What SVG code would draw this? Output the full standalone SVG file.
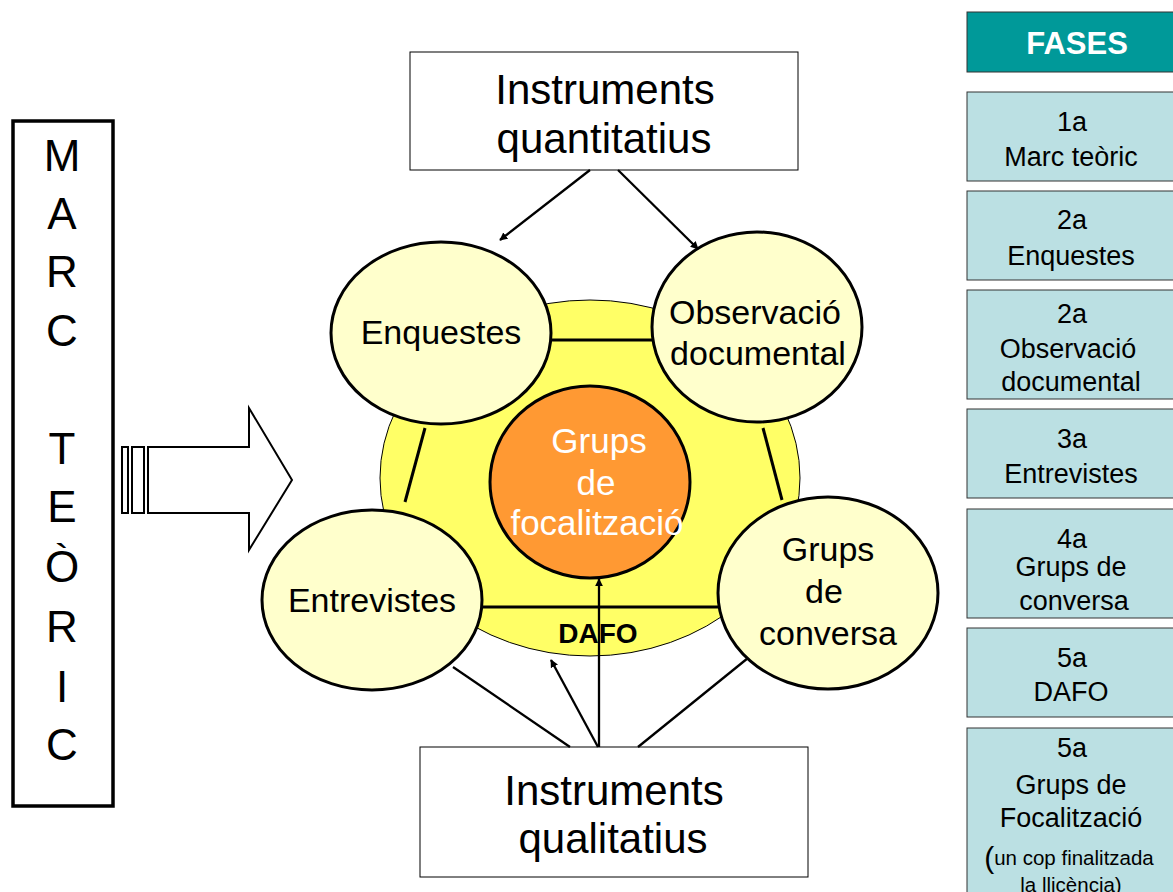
<svg xmlns="http://www.w3.org/2000/svg" width="1173" height="892" viewBox="0 0 1173 892">
  <defs>
    <style>
      text { font-family: "Liberation Sans", Arial, sans-serif; text-anchor: middle; dominant-baseline: central; fill: #000; }
      .inst { font-size: 42px; }
      .node { fill: #FFFFCC; stroke: #000; stroke-width: 3; }
      .node-label { font-size: 34px; }
      .phase { fill: #BBE0E3; stroke: #333; stroke-width: 1; }
      .phase-num { font-size: 27px; }
      .phase-txt { font-size: 27px; }
      .conn { stroke: #000; stroke-width: 2.3; fill: none; }
      .ring { stroke: #000; stroke-width: 3; fill: none; }
    </style>
    <marker id="arrow" viewBox="0 0 10 10" refX="9" refY="5" markerWidth="8" markerHeight="8" orient="auto" markerUnits="userSpaceOnUse">
      <path d="M0,0 L10,5 L0,10 z" fill="#000"/>
    </marker>
  </defs>

  <rect width="1173" height="892" fill="#fff"/>

  <!-- Marc teòric column -->
  <g id="marc-teoric">
    <rect x="13" y="121" width="100" height="685" fill="#fff" stroke="#000" stroke-width="3.5"/>
    <g font-size="44">
      <text x="62" y="155">M</text>
      <text x="62" y="213">A</text>
      <text x="62" y="271">R</text>
      <text x="62" y="330">C</text>
      <text x="62" y="448">T</text>
      <text x="62" y="506">E</text>
      <text x="62" y="566">Ò</text>
      <text x="62" y="626">R</text>
      <text x="62" y="686">I</text>
      <text x="62" y="744">C</text>
    </g>
  </g>

  <!-- Striped block arrow -->
  <g id="block-arrow" fill="#fff" stroke="#000" stroke-width="2">
    <rect x="122" y="447" width="6" height="66"/>
    <rect x="132" y="447" width="12" height="66"/>
    <path d="M148,447 L249,447 L249,408 L292,480 L249,550 L249,513 L148,513 Z"/>
  </g>

  <!-- Outer DAFO ring -->
  <g id="dafo">
    <ellipse cx="590" cy="478" rx="210" ry="178" fill="#FFFF66" stroke="#000" stroke-width="1"/>
    <text x="598" y="633" font-size="28" font-weight="bold">DAFO</text>
  </g>

  <!-- Ring links between the instruments -->
  <g id="ring-links">
    <line class="ring" x1="546" y1="340" x2="656" y2="340"/>
    <line class="ring" x1="425" y1="428" x2="405" y2="502"/>
    <line class="ring" x1="763" y1="428" x2="782" y2="500"/>
    <line class="ring" x1="478" y1="607" x2="722" y2="607"/>
  </g>

  <!-- Central node -->
  <g id="grups-focalitzacio">
    <ellipse cx="590" cy="482" rx="100" ry="96" fill="#FF9933" stroke="#000" stroke-width="3"/>
    <text x="599" y="440" font-size="35" style="fill:#fff">Grups</text>
    <text x="596" y="482" font-size="35" style="fill:#fff">de</text>
    <text x="597" y="522" font-size="35" style="fill:#fff">focalització</text>
  </g>

  <g id="enquestes">
    <ellipse class="node" cx="441" cy="333" rx="110" ry="91"/>
    <text class="node-label" x="441" y="332">Enquestes</text>
  </g>

  <g id="observacio">
    <ellipse class="node" cx="757" cy="327" rx="105" ry="95"/>
    <text class="node-label" x="755" y="312">Observació</text>
    <text class="node-label" x="758" y="353">documental</text>
  </g>

  <g id="entrevistes">
    <ellipse class="node" cx="372" cy="600" rx="110" ry="90"/>
    <text class="node-label" x="372" y="600">Entrevistes</text>
  </g>

  <g id="grups-conversa">
    <ellipse class="node" cx="828" cy="593" rx="110" ry="96"/>
    <text class="node-label" x="828" y="549">Grups</text>
    <text class="node-label" x="824" y="591">de</text>
    <text class="node-label" x="828" y="633">conversa</text>
  </g>

  <g id="instruments-quantitatius">
    <rect x="410" y="52" width="388" height="118" fill="#fff" stroke="#000" stroke-width="1"/>
    <text class="inst" x="605" y="89">Instruments</text>
    <text class="inst" x="604" y="138">quantitatius</text>
  </g>

  <g id="instruments-qualitatius">
    <rect x="420" y="747" width="388" height="130" fill="#fff" stroke="#000" stroke-width="1"/>
    <text class="inst" x="614" y="790">Instruments</text>
    <text class="inst" x="613" y="838">qualitatius</text>
  </g>

  <!-- Connectors -->
  <g id="connectors">
    <line class="conn" x1="590" y1="170" x2="500" y2="240" marker-end="url(#arrow)"/>
    <line class="conn" x1="618" y1="170" x2="698" y2="249" marker-end="url(#arrow)"/>
    <line class="conn" x1="570" y1="747" x2="453" y2="667"/>
    <line class="conn" x1="598" y1="747" x2="551" y2="660" marker-end="url(#arrow)"/>
    <line class="conn" x1="599" y1="747" x2="599" y2="579" marker-end="url(#arrow)"/>
    <line class="conn" x1="638" y1="747" x2="748" y2="658"/>
  </g>

  <!-- Phase list -->
  <g id="fases">
    <rect x="967" y="12" width="210" height="60" fill="#009999" stroke="#333" stroke-width="1"/>
    <text x="1077" y="43" font-size="31" font-weight="bold" style="fill:#fff">FASES</text>
  </g>

  <g id="fase-1">
    <rect class="phase" x="967" y="92" width="210" height="89"/>
    <text class="phase-num" x="1072" y="122">1a</text>
    <text class="phase-txt" x="1071" y="157">Marc teòric</text>
  </g>

  <g id="fase-2a">
    <rect class="phase" x="967" y="191" width="210" height="89"/>
    <text class="phase-num" x="1072" y="220">2a</text>
    <text class="phase-txt" x="1071" y="256">Enquestes</text>
  </g>

  <g id="fase-2b">
    <rect class="phase" x="967" y="290" width="210" height="109"/>
    <text class="phase-num" x="1072" y="314">2a</text>
    <text class="phase-txt" x="1068" y="349">Observació</text>
    <text class="phase-txt" x="1071" y="382">documental</text>
  </g>

  <g id="fase-3">
    <rect class="phase" x="967" y="409" width="210" height="89"/>
    <text class="phase-num" x="1072" y="439">3a</text>
    <text class="phase-txt" x="1071" y="474">Entrevistes</text>
  </g>

  <g id="fase-4">
    <rect class="phase" x="967" y="509" width="210" height="109"/>
    <text class="phase-num" x="1072" y="539">4a</text>
    <text class="phase-txt" x="1071" y="567">Grups de</text>
    <text class="phase-txt" x="1074" y="601">conversa</text>
  </g>

  <g id="fase-5a">
    <rect class="phase" x="967" y="628" width="210" height="89"/>
    <text class="phase-num" x="1072" y="658">5a</text>
    <text class="phase-txt" x="1071" y="692">DAFO</text>
  </g>

  <g id="fase-5b">
    <rect class="phase" x="967" y="728" width="210" height="180"/>
    <text class="phase-num" x="1072" y="748">5a</text>
    <text class="phase-txt" x="1071" y="785">Grups de</text>
    <text class="phase-txt" x="1071" y="818">Focalització</text>
    <text x="1069" y="857" font-size="20.5"><tspan font-size="30">(</tspan>un cop finalitzada</text>
    <text x="1071" y="884" font-size="20.5">la llicència)</text>
  </g>
</svg>
